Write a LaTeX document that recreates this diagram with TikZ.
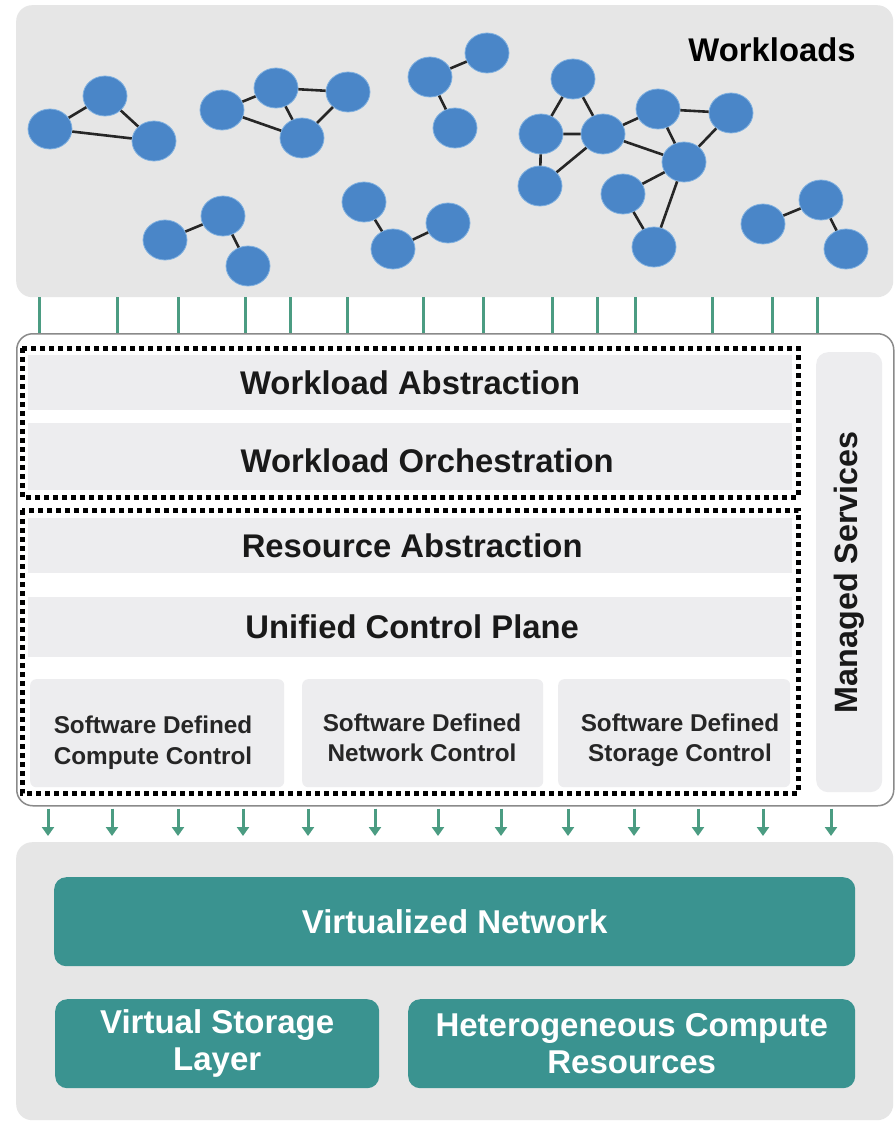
\documentclass[tikz,border=0pt]{standalone}
\usepackage{fontspec}
\setmainfont{Liberation Sans}
\usetikzlibrary{shapes.geometric,arrows.meta,calc}
\definecolor{panelgray}{HTML}{E6E6E6}
\definecolor{bandgray}{HTML}{EDEDEF}
\definecolor{nodeblue}{HTML}{4A86C8}
\definecolor{nodeedge}{HTML}{7FB0E0}
\definecolor{conngreen}{HTML}{4B9C82}
\definecolor{tealbox}{HTML}{3A9390}
\definecolor{framegray}{HTML}{8A8A8A}
\tikzset{
  wl/.style={ellipse,fill=nodeblue,draw=nodeedge,line width=0.8pt,minimum width=44pt,minimum height=40pt,inner sep=0pt},
  wedge/.style={draw=black!85,line width=2.6pt},
  panel/.style={fill=panelgray,rounded corners=16pt,inner sep=0pt,draw=none},
  band/.style={fill=bandgray,draw=none,inner sep=0pt},
  bandtext/.style={font=\bfseries\fontsize{32.8}{36}\selectfont,text=black!90},
  smalltext/.style={font=\bfseries\fontsize{24.3}{31}\selectfont,text=black!85,anchor=base},
  dotbox/.style={draw=black,line width=5pt,dash pattern=on 5pt off 4pt},
  upconn/.style={draw=conngreen,line width=3pt},
  downarrow/.style={draw=conngreen,line width=3pt,-{Triangle[width=12pt,length=9pt]},shorten >=6pt,shorten <=2pt},
  tealnode/.style={fill=tealbox,rounded corners=12pt,draw=none,text=white,font=\bfseries\fontsize{33}{37}\selectfont,align=center,inner sep=0pt}
}
\begin{document}
\begin{tikzpicture}[x=1pt,y=-1pt]
\useasboundingbox (0,0) rectangle (894,1121);
\fill[white] (0,0) rectangle (894,1121);

% top workloads panel
\node[panel,minimum width=877pt,minimum height=292pt,anchor=north west] (work) at (16,5) {};
\node[font=\bfseries\fontsize{32.8}{36}\selectfont] (wtitle) at (772,50) {Workloads};

% graphs
\node[wl] (A1) at (50,129) {};
\node[wl] (A2) at (105,96) {};
\node[wl] (A3) at (154,141) {};
\draw[wedge] (A1)--(A2) (A2)--(A3) (A1)--(A3);

\node[wl] (B1) at (222,110) {};
\node[wl] (B2) at (276,88) {};
\node[wl] (B3) at (348,92) {};
\node[wl] (B4) at (302,138) {};
\draw[wedge] (B1)--(B2) (B2)--(B3) (B2)--(B4) (B3)--(B4) (B1)--(B4);

\node[wl] (C1) at (430,77) {};
\node[wl] (C2) at (487,53) {};
\node[wl] (C3) at (455,128) {};
\draw[wedge] (C1)--(C2) (C1)--(C3);

\node[wl] (D1) at (165,240) {};
\node[wl] (D2) at (223,216) {};
\node[wl] (D3) at (248,266) {};
\draw[wedge] (D1)--(D2) (D2)--(D3);

\node[wl] (E1) at (364,202) {};
\node[wl] (E2) at (393,249) {};
\node[wl] (E3) at (448,223) {};
\draw[wedge] (E1)--(E2) (E2)--(E3);

\node[wl] (F1) at (573,79) {};
\node[wl] (F2) at (541,134) {};
\node[wl] (F3) at (603,134) {};
\node[wl] (F4) at (658,109) {};
\node[wl] (F5) at (731,113) {};
\node[wl] (F6) at (684,162) {};
\node[wl] (F7) at (540,186) {};
\node[wl] (F8) at (623,194) {};
\node[wl] (F9) at (654,247) {};
\draw[wedge] (F1)--(F2) (F1)--(F3) (F2)--(F3) (F2)--(F7) (F7)--(F3) (F3)--(F4)
  (F3)--(F6) (F4)--(F5) (F4)--(F6) (F5)--(F6) (F6)--(F8) (F6)--(F9) (F8)--(F9);

\node[wl] (G1) at (763,224) {};
\node[wl] (G2) at (821,200) {};
\node[wl] (G3) at (846,249) {};
\draw[wedge] (G1)--(G2) (G2)--(G3);

% middle frame
\node[draw=framegray,line width=1.5pt,fill=white,rounded corners=16pt,minimum width=877pt,minimum height=472pt,anchor=north west,inner sep=0pt] (mid) at (16,333) {};

% top connectors
\foreach \px in {39,117,178,245,290,347,423,483,552,597,635,712,772,817}{
  \draw[upconn] (\px,0 |- work.south) -- (\px,0 |- mid.north);
}

% bands
\node[band,minimum width=764pt,minimum height=55pt,anchor=north west] (wa) at (28,355) {};
\node[bandtext] at (wa.center) {Workload Abstraction};
\node[band,minimum width=764pt,minimum height=67pt,anchor=north west] (wo) at (28,423) {};
\node[bandtext] at ($(wo.center)+(17,4)$) {Workload Orchestration};
\node[band,minimum width=764pt,minimum height=55pt,anchor=north west] (ra) at (28,518) {};
\node[bandtext] at ($(ra.center)+(2,0)$) {Resource Abstraction};
\node[band,minimum width=764pt,minimum height=60pt,anchor=north west] (uc) at (28,597) {};
\node[bandtext] at ($(uc.center)+(2,0)$) {Unified Control Plane};

\node[band,rounded corners=6pt,minimum width=254pt,minimum height=108pt,anchor=north west] (sc) at (30,679) {};
\node[smalltext] at (153,733) {Software Defined};
\node[smalltext] at (153,764) {Compute Control};
\node[band,rounded corners=6pt,minimum width=241pt,minimum height=108pt,anchor=north west] (sn) at (302,679) {};
\node[smalltext] at (422,731) {Software Defined};
\node[smalltext] at (422,761) {Network Control};
\node[band,rounded corners=6pt,minimum width=232pt,minimum height=108pt,anchor=north west] (ss) at (558,679) {};
\node[smalltext] at (680,731) {Software Defined};
\node[smalltext] at (680,761) {Storage Control};

% dotted boxes
\draw[dotbox] (22,348) rectangle (798,497);
\draw[dotbox] (22,510) rectangle (798,793);

% managed services
\node[fill=bandgray,rounded corners=12pt,minimum width=66pt,minimum height=440pt,anchor=north west,inner sep=0pt] (ms) at (816,352) {};
\node[rotate=90,font=\bfseries\fontsize{32.3}{36}\selectfont,text=black!90] at (ms.center) {Managed Services};

% bottom panel
\node[panel,minimum width=877pt,minimum height=278pt,anchor=north west] (base) at (16,842) {};

% down arrows
\foreach \px in {48,112,178,243,308,375,438,501,568,634,698,763,831}{
  \draw[downarrow] (\px,0 |- mid.south) -- (\px,0 |- base.north);
}

% teal boxes
\node[tealnode,minimum width=801pt,minimum height=89pt,anchor=north west] (vn) at (54,877) {Virtualized Network};
\node[tealnode,minimum width=324pt,minimum height=89pt,anchor=north west] (vs) at (55,999) {Virtual Storage\\Layer};
\node[tealnode,minimum width=447pt,minimum height=89pt,anchor=north west] (hc) at (408,999) {Heterogeneous Compute\\Resources};
\end{tikzpicture}
\end{document}
